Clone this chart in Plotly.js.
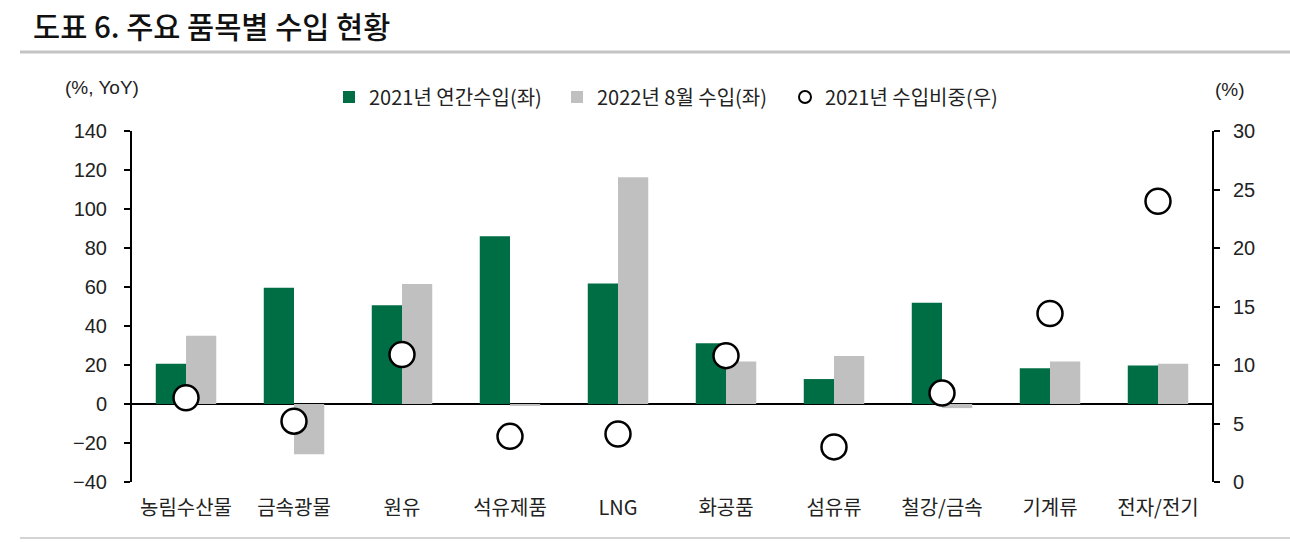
<!DOCTYPE html>
<html>
<head>
<meta charset="utf-8">
<script src="https://cdn.plot.ly/plotly-3.0.1.min.js"></script>
<style>
  html, body { margin: 0; padding: 0; background: #ffffff; }
  #chart { width: 1290px; height: 542px; }
</style>
</head>
<body>
<div id="chart"></div>
<script>
// 품목 (x axis categories)
const categories = ['농림수산물', '금속광물', '원유', '석유제품', 'LNG', '화공품', '섬유류', '철강/금속', '기계류', '전자/전기'];

// 2021년 연간수입 증감률 (%, YoY, left axis)
const import2021 = [20.6, 59.6, 50.7, 86.0, 61.8, 31.2, 12.8, 51.9, 18.3, 19.8];

// 2022년 8월 수입 증감률 (%, YoY, left axis)
const importAug2022 = [35.0, -25.8, 61.6, -0.9, 116.3, 21.8, 24.6, -2.1, 21.8, 20.6];

// 2021년 수입비중 (%, right axis)
const share2021 = [7.2, 5.2, 10.9, 3.9, 4.1, 10.8, 3.0, 7.6, 14.4, 24.0];

// category boundaries for the small ticks on the zero line
const boundaryTicks = categories.slice(1).map((c, i) => i + 0.5);

const FONT_NUM = '"Liberation Sans", Arial, "Noto Sans CJK KR", sans-serif';
const FONT_KR = '"Noto Sans CJK KR", "Liberation Sans", sans-serif';

// plot area in pixels, used to place the paper-referenced decorations
const M = { l: 132, r: 78, t: 131, b: 60 };
const PW = 1290 - M.l - M.r;
const PH = 542 - M.t - M.b;
const px = (x) => (x - M.l) / PW;
const py = (y) => (542 - M.b - y) / PH;

const traces = [
  {
    type: 'bar',
    name: '2021년 연간수입(좌)',
    x: categories,
    y: import2021,
    marker: { color: '#006e45' },
    hoverinfo: 'y',
  },
  {
    type: 'bar',
    name: '2022년 8월 수입(좌)',
    x: categories,
    y: importAug2022,
    marker: { color: '#c0c0c0' },
    hoverinfo: 'y',
  },
  {
    type: 'scatter',
    mode: 'markers',
    name: '2021년 수입비중(우)',
    x: categories,
    y: share2021,
    yaxis: 'y2',
    marker: {
      size: 25,
      color: '#ffffff',
      line: { color: '#000000', width: 2.5 },
    },
    hoverinfo: 'y',
  },
];

// zero line position inside the plot area (paper fraction)
const yRange = [-40, 140];
const zeroPos = (0 - yRange[0]) / (yRange[1] - yRange[0]);
const xRange = [-0.5, categories.length - 0.5];

const tickAxis = (dir) => ({
  overlaying: 'x',
  anchor: 'free',
  position: zeroPos,
  range: xRange,
  tickvals: boundaryTicks,
  ticks: dir,
  ticklen: 5,
  tickwidth: 2,
  tickcolor: '#000000',
  showticklabels: false,
  showline: false,
  showgrid: false,
  zeroline: false,
});

const layout = {
  width: 1290,
  height: 542,
  paper_bgcolor: '#ffffff',
  plot_bgcolor: '#ffffff',
  margin: M,
  font: { family: FONT_KR, size: 20, color: '#222222' },
  barmode: 'group',
  bargap: 0.44,
  bargroupgap: 0,
  title: {
    text: '도표 6. 주요 품목별 수입 현황',
    font: { family: FONT_KR, size: 29.5, color: '#111111', weight: 500 },
    xref: 'container',
    yref: 'container',
    x: 33 / 1290,
    xanchor: 'left',
    y: 1 - 28 / 542,
    yanchor: 'middle',
  },
  xaxis: {
    type: 'category',
    range: xRange,
    showline: false,
    showgrid: false,
    zeroline: false,
    ticks: '',
    tickfont: { family: FONT_KR, size: 20, color: '#222222' },
    ticklabelstandoff: 12,
  },
  xaxis2: tickAxis('outside'),
  xaxis3: tickAxis('inside'),
  yaxis: {
    range: yRange,
    dtick: 20,
    showgrid: false,
    zeroline: true,
    zerolinecolor: '#000000',
    zerolinewidth: 2,
    showline: true,
    linecolor: '#000000',
    linewidth: 2,
    ticks: 'outside',
    ticklen: 6,
    tickwidth: 2,
    tickcolor: '#000000',
    tickfont: { family: FONT_NUM, size: 20, color: '#222222' },
    ticklabelstandoff: 13,
  },
  yaxis2: {
    overlaying: 'y',
    side: 'right',
    range: [0, 30],
    dtick: 5,
    showgrid: false,
    zeroline: false,
    showline: true,
    linecolor: '#000000',
    linewidth: 2,
    ticks: 'outside',
    ticklen: 6,
    tickwidth: 2,
    tickcolor: '#000000',
    tickfont: { family: FONT_NUM, size: 20, color: '#222222' },
    ticklabelstandoff: 9,
  },
  legend: {
    orientation: 'h',
    x: px(329),
    xanchor: 'left',
    y: py(97),
    yanchor: 'middle',
    font: { family: FONT_KR, size: 20, color: '#222222' },
    itemwidth: 30,
    itemsizing: 'constant',
    entrywidth: 183,
    entrywidthmode: 'pixels',
    tracegroupgap: 0,
    bgcolor: 'rgba(0,0,0,0)',
  },
  annotations: [
    {
      text: '(%, YoY)',
      xref: 'paper', yref: 'paper',
      x: px(102), y: py(88),
      xanchor: 'center', yanchor: 'middle',
      showarrow: false,
      font: { family: FONT_NUM, size: 19, color: '#222222' },
    },
    {
      text: '(%)',
      xref: 'paper', yref: 'paper',
      x: px(1230), y: py(89),
      xanchor: 'center', yanchor: 'middle',
      showarrow: false,
      font: { family: FONT_NUM, size: 19, color: '#222222' },
    },
  ],
  shapes: [
    {
      type: 'line', xref: 'paper', yref: 'paper',
      x0: px(20), x1: px(1290),
      y0: py(52), y1: py(52),
      line: { color: '#c4c4c4', width: 3 },
    },
    {
      type: 'line', xref: 'paper', yref: 'paper',
      x0: px(20), x1: px(1290),
      y0: py(538), y1: py(538),
      line: { color: '#d4d4d4', width: 2 },
    },
  ],
  showlegend: true,
};

Plotly.newPlot('chart', traces, layout, { displayModeBar: false, responsive: false });
</script>
</body>
</html>
